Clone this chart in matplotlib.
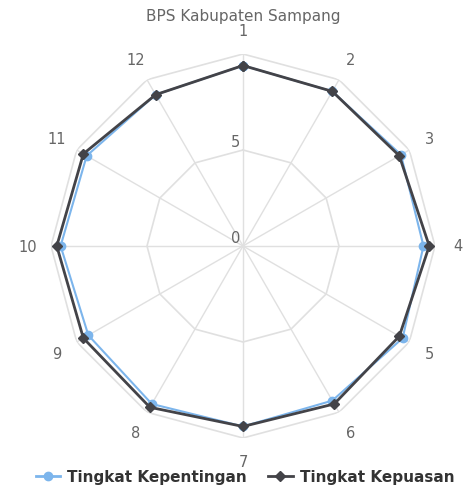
import numpy as np
import matplotlib
matplotlib.use("Agg")
import matplotlib.pyplot as plt
from matplotlib.lines import Line2D

title = "BPS Kabupaten Sampang"
categories = ["1", "2", "3", "4", "5", "6", "7", "8", "9", "10", "11", "12"]
kepentingan = [9.4, 9.3, 9.5, 9.4, 9.6, 9.3, 9.4, 9.5, 9.3, 9.5, 9.4, 9.1]
kepuasan = [9.4, 9.3, 9.4, 9.7, 9.4, 9.5, 9.4, 9.7, 9.6, 9.7, 9.6, 9.1]
y_ticks = [0, 5, 10]
y_tick_labels = ["0", "5"]
series_names = ["Tingkat Kepentingan", "Tingkat Kepuasan"]

W, H = 466, 489
fig = plt.figure(figsize=(W / 100, H / 100), dpi=100)
cx, cy, R = 243, 247, 192
ax = fig.add_axes([(cx - R) / W, (H - cy - R) / H, 2 * R / W, 2 * R / H], projection="polar")
ax.set_theta_zero_location("N")
ax.set_theta_direction(-1)
ax.set_ylim(0, 10)
ax.grid(False)
ax.spines["polar"].set_visible(False)
ax.set_xticks([])
ax.set_yticks([])
ax.patch.set_alpha(0)

n = len(categories)
angles = np.linspace(0, 2 * np.pi, n, endpoint=False)
closed = np.concatenate([angles, angles[:1]])

grid_col = "#e0e0e0"
for a in angles:
    ax.plot([a, a], [0, y_ticks[-1]], color=grid_col, lw=1, zorder=1)
for v in y_ticks[1:]:
    ax.plot(closed, [v] * (n + 1), color=grid_col, lw=1.2, zorder=1)

for v, lab in zip(y_ticks, y_tick_labels):
    ax.annotate(lab, xy=(0, v), xytext=(-3, 8), textcoords="offset pixels",
                ha="right", va="center", fontsize=10.5, color="#666666")

for a, lab in zip(angles, categories):
    ax.text(a, 11.2, lab, ha="center", va="center", fontsize=10.5,
            color="#666666", clip_on=False)

blue = "#7cb5ec"
dark = "#434348"
ax.plot(closed, kepentingan + kepentingan[:1], color=blue, lw=1.5, marker="o",
        ms=6, zorder=3)
ax.plot(closed, kepuasan + kepuasan[:1], color=dark, lw=2, marker="D",
        ms=5, zorder=4)

fig.text(cx / W, 1 - 17 / H, title, ha="center", va="center", fontsize=11,
         color="#666666")

handles = [Line2D([], [], color=blue, lw=2, marker="o", ms=6),
           Line2D([], [], color=dark, lw=2, marker="D", ms=5)]
leg = fig.legend(handles, series_names, loc="center", bbox_to_anchor=(245 / W, 1 - 478 / H),
                 ncol=2, frameon=False, handlelength=1.6, columnspacing=1.4,
                 handletextpad=0.45, prop={"weight": "bold", "size": 11})
for t in leg.get_texts():
    t.set_color("#333333")

fig.savefig("out.png", dpi=100)
